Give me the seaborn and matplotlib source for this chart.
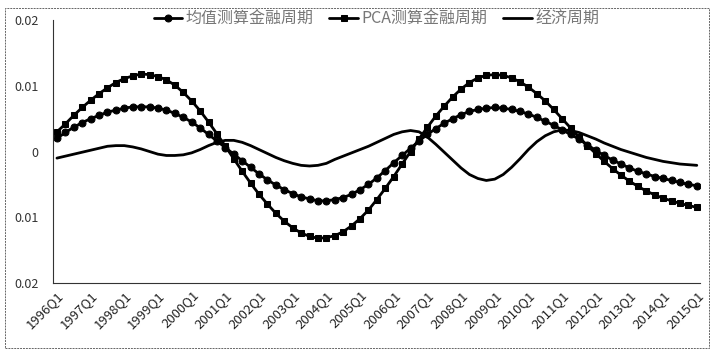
import numpy as np
import pandas as pd
import matplotlib
matplotlib.use('Agg')
import matplotlib.pyplot as plt
from matplotlib.patches import Rectangle
from matplotlib.ticker import MultipleLocator
import seaborn as sns

sns.set_style('white')
plt.rcParams['font.family'] = ['Noto Sans CJK SC', 'DejaVu Sans']
plt.rcParams['axes.unicode_minus'] = False

# 季度: 1996Q1 ~ 2015Q1
years = list(range(1996, 2016))
quarters = [f'{y}Q{q}' for y in years for q in range(1, 5)][:77]
tick_labels = [f'{y}Q1' for y in years]

# 均值测算金融周期
mean_cycle = [0.0020, 0.0029, 0.0037, 0.0044, 0.0050, 0.0055, 0.0060, 0.0063, 0.0066, 0.0068,
              0.0068, 0.0068, 0.0066, 0.0063, 0.0058, 0.0052, 0.0045, 0.0036, 0.0026, 0.0016,
              0.0006, -0.0004, -0.0014, -0.0024, -0.0034, -0.0043, -0.0051, -0.0058, -0.0064, -0.0069,
              -0.0072, -0.0075, -0.0075, -0.0073, -0.0070, -0.0065, -0.0058, -0.0050, -0.0040, -0.0029,
              -0.0017, -0.0006, 0.0005, 0.0016, 0.0026, 0.0035, 0.0043, 0.0050, 0.0056, 0.0061,
              0.0064, 0.0066, 0.0067, 0.0066, 0.0064, 0.0061, 0.0057, 0.0052, 0.0046, 0.0040,
              0.0033, 0.0026, 0.0019, 0.0010, 0.0002, -0.0006, -0.0013, -0.0019, -0.0025, -0.0030,
              -0.0034, -0.0038, -0.0041, -0.0044, -0.0047, -0.0050, -0.0052]

# PCA测算金融周期
pca_cycle = [0.0030, 0.0042, 0.0055, 0.0067, 0.0078, 0.0088, 0.0097, 0.0105, 0.0111, 0.0115,
             0.0118, 0.0117, 0.0114, 0.0109, 0.0101, 0.0090, 0.0077, 0.0062, 0.0045, 0.0027,
             0.0008, -0.0011, -0.0030, -0.0048, -0.0065, -0.0080, -0.0094, -0.0106, -0.0116, -0.0124,
             -0.0129, -0.0132, -0.0131, -0.0128, -0.0122, -0.0113, -0.0102, -0.0089, -0.0073, -0.0056,
             -0.0038, -0.0019, 0.0000, 0.0019, 0.0037, 0.0054, 0.0069, 0.0083, 0.0095, 0.0105,
             0.0112, 0.0116, 0.0117, 0.0116, 0.0112, 0.0106, 0.0098, 0.0088, 0.0077, 0.0064,
             0.0050, 0.0036, 0.0022, 0.0009, -0.0003, -0.0015, -0.0026, -0.0036, -0.0045, -0.0053,
             -0.0060, -0.0066, -0.0071, -0.0075, -0.0079, -0.0082, -0.0085]

# 经济周期
econ_cycle = [-0.0010, -0.0007, -0.0004, -0.0001, 0.0002, 0.0005, 0.0008, 0.0009, 0.0009, 0.0007,
              0.0004, 0.0000, -0.0004, -0.0006, -0.0006, -0.0005, -0.0002, 0.0003, 0.0009, 0.0014,
              0.0017, 0.0017, 0.0014, 0.0009, 0.0003, -0.0003, -0.0009, -0.0014, -0.0018, -0.0021,
              -0.0022, -0.0021, -0.0018, -0.0012, -0.0007, -0.0002, 0.0003, 0.0008, 0.0014, 0.0020,
              0.0026, 0.0030, 0.0032, 0.0030, 0.0022, 0.0011, -0.0001, -0.0013, -0.0025, -0.0035,
              -0.0041, -0.0044, -0.0042, -0.0035, -0.0024, -0.0011, 0.0003, 0.0015, 0.0024, 0.0030,
              0.0033, 0.0032, 0.0029, 0.0024, 0.0019, 0.0013, 0.0008, 0.0003, -0.0001, -0.0005,
              -0.0009, -0.0012, -0.0015, -0.0017, -0.0019, -0.0020, -0.0021]

y_ticks = [-0.02, -0.01, 0, 0.01, 0.02]
y_tick_labels = ['0.02', '0.01', '0', '0.01', '0.02']

df = pd.DataFrame({'idx': np.arange(len(quarters)), 'quarter': quarters,
                   'mean': mean_cycle, 'pca': pca_cycle, 'econ': econ_cycle})

fig = plt.figure(figsize=(7.13, 3.52), dpi=100)
ax = fig.add_axes([0.074, 0.196, 0.908, 0.747])

sns.lineplot(data=df, x='idx', y='mean', ax=ax, color='black', linewidth=2,
             marker='o', markersize=5, markeredgecolor='black', label='均值测算金融周期')
sns.lineplot(data=df, x='idx', y='pca', ax=ax, color='black', linewidth=2,
             marker='s', markersize=5, markeredgecolor='black', label='PCA测算金融周期')
sns.lineplot(data=df, x='idx', y='econ', ax=ax, color='black', linewidth=2,
             label='经济周期')

ax.set_xlim(-0.5, 76.4)
ax.set_ylim(-0.02, 0.02)
ax.set_xticks(np.arange(0, 77, 4))
ax.set_xticklabels(tick_labels, rotation=45, ha='right', rotation_mode='anchor',
                   fontsize=9.5, color='#222222')
ax.xaxis.set_minor_locator(MultipleLocator(2))
ax.set_yticks(y_ticks)
ax.set_yticklabels(y_tick_labels, fontsize=9, color='#333333')
ax.yaxis.set_minor_locator(MultipleLocator(0.002))
ax.tick_params(axis='both', which='major', direction='in', length=4, width=0.8, color='#333333')
ax.tick_params(axis='both', which='minor', direction='in', length=2, width=0.6, color='#333333')
ax.tick_params(axis='y', pad=10)
ax.tick_params(axis='x', pad=4)
ax.set_xlabel('')
ax.set_ylabel('')
sns.despine(ax=ax)
for s in ['left', 'bottom']:
    ax.spines[s].set_color('#333333')
    ax.spines[s].set_linewidth(0.8)

leg = ax.legend(loc='upper center', bbox_to_anchor=(0.5, 1.09), ncol=3, frameon=False,
                fontsize=11.5, handlelength=1.8, handletextpad=0.2, columnspacing=1.0)
for t in leg.get_texts():
    t.set_color('#777777')

fig.patches.append(Rectangle((0.007, 0.01), 0.988, 0.968, transform=fig.transFigure,
                             fill=False, edgecolor='#666666', linewidth=0.7, linestyle=(0, (2, 1))))

fig.savefig('out.png', dpi=100)
